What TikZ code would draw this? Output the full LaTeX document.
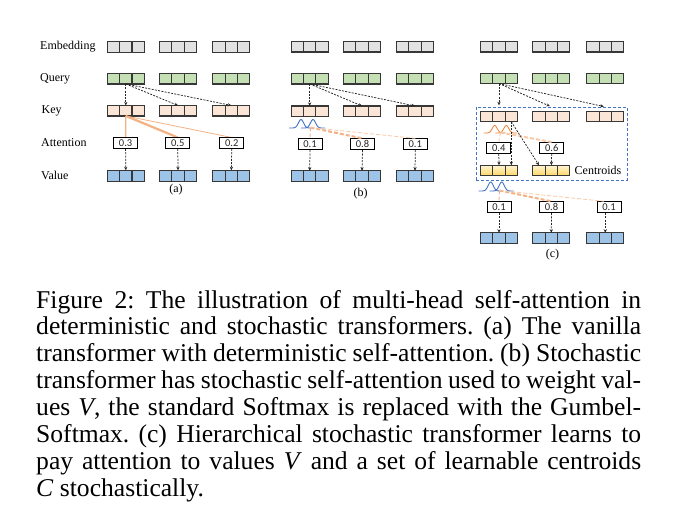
\documentclass[tikz,border=0pt]{standalone}
\usepackage{fontspec}
\setmainfont{Liberation Serif}
\newfontfamily\numfont{Carlito}
\usetikzlibrary{arrows.meta,calc}
\definecolor{bd}{RGB}{55,55,55}
\definecolor{cgray}{RGB}{226,226,226}
\definecolor{cgreen}{RGB}{197,224,180}
\definecolor{ckey}{RGB}{251,229,214}
\definecolor{cval}{RGB}{157,195,230}
\definecolor{cyt}{RGB}{255,244,210}
\definecolor{cyb}{RGB}{255,214,100}
\definecolor{gblue}{RGB}{68,114,196}
\definecolor{gorange}{RGB}{237,125,49}
\definecolor{oline}{RGB}{244,177,131}
\definecolor{olight}{RGB}{248,200,168}
\newcommand\jline[1]{\hbox to 605pt{#1}}
\begin{document}
\begin{tikzpicture}[x=1pt,y=-1pt,
  vec/.style={draw=bd, line width=1.1pt, minimum width=37pt, minimum height=10.5pt, inner sep=0pt, outer sep=0pt,
    path picture={\draw[bd, line width=1.1pt]
      ($(path picture bounding box.north west)!1/3!(path picture bounding box.north east)$) --
      ($(path picture bounding box.south west)!1/3!(path picture bounding box.south east)$)
      ($(path picture bounding box.north west)!2/3!(path picture bounding box.north east)$) --
      ($(path picture bounding box.south west)!2/3!(path picture bounding box.south east)$);}},
  emb/.style={vec, fill=cgray},
  qry/.style={vec, fill=cgreen},
  key/.style={vec, fill=ckey},
  val/.style={vec, fill=cval, minimum height=11pt},
  cen/.style={vec, top color=cyt, bottom color=cyb},
  attn/.style={draw=black, line width=0.8pt, fill=white, minimum width=24pt, minimum height=11pt, inner sep=0pt,
    font=\numfont\fontsize{10.5}{10.5}\selectfont, text=black!85},
  lab/.style={anchor=west, inner sep=0pt, font=\fontsize{12}{14}\selectfont},
  arr/.style={black!85, line width=0.75pt, dash pattern=on 2pt off 1.3pt, -{Stealth[length=3.6pt,width=3.2pt]}},
  osolid/.style={oline},
  odash/.style={oline, dash pattern=on 4pt off 2pt},
  gcurve/.style={line width=0.9pt, domain=-12:12, samples=40, smooth}
]
\useasboundingbox (0,0) rectangle (686,522);

% ---------- row labels ----------
\node[lab] (lemb) at (40,47) {Embedding};
\node[lab] (lqry) at (40,78.5) {Query};
\node[lab] (lkey) at (41.5,110.7) {Key};
\node[lab] (latt) at (41,143) {Attention};
\node[lab] (lval) at (41,175.8) {Value};

% ---------- panel (a) ----------
\foreach \i/\x in {1/125.8,2/178,3/231.3}{
  \node[emb] (ae\i) at (\x,47) {};
  \node[qry] (aq\i) at (\x,78.7) {};
  \node[key] (ak\i) at (\x,110.7) {};
  \node[val] (av\i) at (\x,175.8) {};
}
\draw[osolid, line width=1.3pt] (ak1.south) -- (125.6,137.5) coordinate (aa1top);
\draw[osolid, line width=2.2pt] (ak1.south) -- (177.8,137.5);
\draw[osolid, line width=0.8pt] (ak1.south) -- (231.8,137.5);
\node[attn] (aa1) at (125.6,143) {0.3};
\node[attn] (aa2) at (177.8,143) {0.5};
\node[attn] (aa3) at (231.8,143) {0.2};
\foreach \i in {1,2,3}{
  \draw[arr] (aq1.south) -- (ak\i.north);
  \draw[arr] (aa\i.south) -- (av\i.north);
}
\node[font=\fontsize{12}{14}\selectfont, inner sep=0pt] (la) at (176,189.5) {(a)};

% ---------- panel (b) ----------
\foreach \i/\x in {1/309.7,2/362,3/415}{
  \node[emb] (be\i) at (\x,46.7) {};
  \node[qry] (bq\i) at (\x,78.7) {};
  \node[key] (bk\i) at (\x,111.2) {};
  \node[val] (bv\i) at (\x,176.3) {};
}
\node[attn] (ba1) at (310,144.3) {0.1};
\node[attn] (ba2) at (362.5,144.3) {0.8};
\node[attn] (ba3) at (415.3,144.3) {0.1};
\draw[gblue, gcurve] plot ({301+\x},{128-8.5*exp(-(\x)*(\x)/13)});
\draw[gblue, gcurve] plot ({313+\x},{128-8.5*exp(-(\x)*(\x)/13)});
\coordinate (gb) at (310.5,127.5);
\draw[odash, line width=0.8pt] (gb) -- (ba1.north);
\draw[odash, line width=2pt] (gb) -- (ba2.north);
\draw[odash, line width=0.8pt, olight] (gb) -- (ba3.north);
\foreach \i in {1,2,3}{
  \draw[arr] (bq1.south) -- (bk\i.north);
  \draw[arr] (ba\i.south) -- (bv\i.north);
}
\node[font=\fontsize{12}{14}\selectfont, inner sep=0pt] (lb) at (360.5,194) {(b)};

% ---------- panel (c) ----------
\node[draw=gblue, line width=0.9pt, dash pattern=on 3pt off 2pt, minimum width=151.3pt, minimum height=72.7pt, inner sep=0pt] (cr) at (551.65,143.65) {};
\foreach \i/\x in {1/499,2/551.3,3/605.3}{
  \node[emb] (ce\i) at (\x,46.7) {};
  \node[qry] (cq\i) at (\x,78.3) {};
  \node[key] (ck\i) at (\x,116.5) {};
  \node[val] (cv\i) at (\x,238.3) {};
}
\node[cen] (cc1) at (499,170.5) {};
\node[cen] (cc2) at (551.3,170.5) {};
\node[lab] (cl) at (574.5,170.5) {Centroids};
\foreach \i in {1,2,3}{
  \draw[arr, shorten >=1.5pt] (cq1.south) -- (ck\i.north |- cr.north);
}
% orange gumbel under key 1
\draw[gorange, gcurve, line width=0.8pt, domain=-11:11] plot ({494.7+\x},{133-7.5*exp(-(\x)*(\x)/12)});
\draw[gorange, gcurve, line width=0.8pt, domain=-11:11] plot ({506.3+\x},{133-7.5*exp(-(\x)*(\x)/12)});
\node[attn] (cw1) at (498.8,148) {0.4};
\node[attn] (cw2) at (551.7,148) {0.6};
\coordinate (gk) at (500.5,132.5);
\draw[odash, line width=0.8pt, olight] (gk) -- (cw1.north);
\draw[odash, line width=2pt, olight] (gk) -- (cw2.north);
\draw[arr] ([xshift=12.3pt]ck1.south) -- ([xshift=12.3pt]cc1.north);
\draw[arr] ([xshift=12.3pt]ck1.south) -- ([xshift=-12.3pt]cc2.north);
\draw[arr] (cw1.south) -- (cc1.north);
\draw[arr] (cw2.south) -- (cc2.north);
% blue gumbel under centroid 1
\draw[gblue, gcurve] plot ({490.7+\x},{191-9*exp(-(\x)*(\x)/13)});
\draw[gblue, gcurve] plot ({501.7+\x},{191-9*exp(-(\x)*(\x)/13)});
\node[attn] (cb1) at (499,207.2) {0.1};
\node[attn] (cb2) at (551.5,207.2) {0.8};
\node[attn] (cb3) at (609,207.2) {0.1};
\coordinate (gc) at (499.5,190.5);
\draw[odash, line width=0.8pt] (gc) -- (cb1.north);
\draw[odash, line width=2pt] (gc) -- (cb2.north);
\draw[odash, line width=0.8pt, olight] (gc) -- ([xshift=-5pt]cb3.north);
\draw[arr] (cb1.south) -- (cv1.north);
\draw[arr] (cb2.south) -- (cv2.north);
\draw[arr] (cb3.south -| cv3.north) -- (cv3.north);
\node[font=\fontsize{12}{14}\selectfont, inner sep=0pt] (lc) at (552.5,255) {(c)};

% ---------- caption ----------
\node[anchor=base west, inner sep=0pt] (cap) at (36,308) {\parbox[t]{605pt}{\fontsize{25.6}{26.9}\selectfont\frenchspacing
\jline{Figure 2: The illustration of multi-head self-attention in}
\jline{deterministic and stochastic transformers. (a) The vanilla}
\jline{transformer with deterministic self-attention. (b) Stochastic}
\jline{transformer has stochastic self-attention used to weight val-}
\jline{ues \textit{V}, the standard Softmax is replaced with the Gumbel-}
\jline{Softmax. (c) Hierarchical stochastic transformer learns to}
\jline{pay attention to values \textit{V} and a set of learnable centroids}
\hbox{\textit{C} stochastically.}}};
\end{tikzpicture}
\end{document}
